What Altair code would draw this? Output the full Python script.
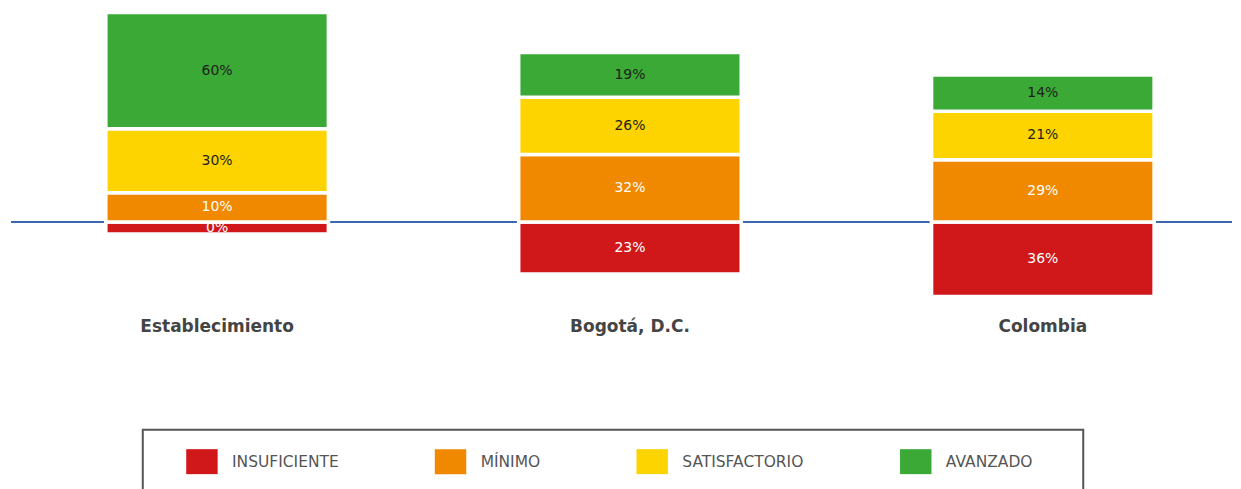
import altair as alt
import pandas as pd

categorias = ["Establecimiento", "Bogotá, D.C.", "Colombia"]
niveles = ["INSUFICIENTE", "MÍNIMO", "SATISFACTORIO", "AVANZADO"]
insuficiente = [0, 23, 36]
minimo = [10, 32, 29]
satisfactorio = [30, 26, 21]
avanzado = [60, 19, 14]
colores = ["#d0181b", "#f08800", "#fdd300", "#3ba935"]

series = [insuficiente, minimo, satisfactorio, avanzado]
rows = []
for j, nivel in enumerate(niveles):
    for i, cat in enumerate(categorias):
        rows.append({"cat": cat, "nivel": nivel, "orden": j, "valor": series[j][i]})
df = pd.DataFrame(rows)

FONT = "DejaVu Sans"

base = (
    alt.Chart(df)
    .transform_calculate(h="datum.valor + 6.8", lado="datum.orden == 0 ? -1 : 1")
    .transform_window(acum="sum(h)", groupby=["cat", "lado"], sort=[alt.SortField("orden")],
                      frame=[None, 0])
    .transform_calculate(y1="datum.lado * datum.acum",
                         y0="datum.lado * (datum.acum - datum.h)")
    .transform_calculate(mid="(datum.y0 + datum.y1) / 2",
                         etiqueta="datum.valor + '%'")
)

xscale = alt.Scale(domain=categorias, paddingInner=0.461, paddingOuter=0.2092, align=0.549)
xaxis = alt.Axis(domain=False, ticks=False, labelAngle=0, labelFont=FONT, labelFontSize=17,
                 labelFontWeight="bold", labelColor="#444444", labelPadding=18, title=None)
yscale = alt.Scale(domain=[-45.3, 120.4], nice=False, zero=False)


def xenc():
    return alt.X("cat:N", sort=categorias, title=None, scale=xscale, axis=xaxis)


bars = base.mark_bar(stroke="white", strokeWidth=3.5, opacity=1).encode(
    x=xenc(),
    y=alt.Y("y0:Q", scale=yscale, axis=None),
    y2="y1:Q",
    color=alt.Color(
        "nivel:N", sort=niveles,
        scale=alt.Scale(domain=niveles, range=colores),
        legend=alt.Legend(
            title=" ", titleOrient="right", titlePadding=31,
            orient="none", legendX=132, legendY=418, direction="horizontal",
            strokeColor="#555555", padding=19.5, fillColor="white",
            symbolType="M0.92,-1 H3.44 V1 H0.92 Z", symbolSize=625, symbolStrokeWidth=0,
            symbolOpacity=1, labelOffset=44.9, columnPadding=72, labelFont=FONT,
            labelFontSize=15.5, labelColor="#555555",
        ),
    ),
)

texts_light = base.transform_filter("datum.orden < 2").mark_text(
    font=FONT, fontSize=14, baseline="middle", color="#ffffff"
).encode(
    x=xenc(),
    y=alt.Y("mid:Q", scale=yscale, axis=None),
    text="etiqueta:N",
)
texts_dark = base.transform_filter("datum.orden >= 2").mark_text(
    font=FONT, fontSize=14, baseline="middle", color="#1e1e1e"
).encode(
    x=xenc(),
    y=alt.Y("mid:Q", scale=yscale, axis=None),
    text="etiqueta:N",
)

rule = alt.Chart(pd.DataFrame({"z": [0]})).mark_rule(color="#3b67ae", strokeWidth=2).encode(
    y=alt.Y("z:Q", scale=yscale, axis=None)
)

layered = alt.layer(rule, bars, texts_light, texts_dark).properties(
    width=1223, height=289, padding={"left": 2, "top": 2, "right": 0, "bottom": 0}
)

try:
    chart = layered.configure_view(stroke=None).configure_legend(strokeWidth=2)
    chart.to_dict()
except Exception:
    chart = layered.configure_view(stroke=None)

chart.save("out.html", embed_options={"renderer": "svg", "actions": False})
